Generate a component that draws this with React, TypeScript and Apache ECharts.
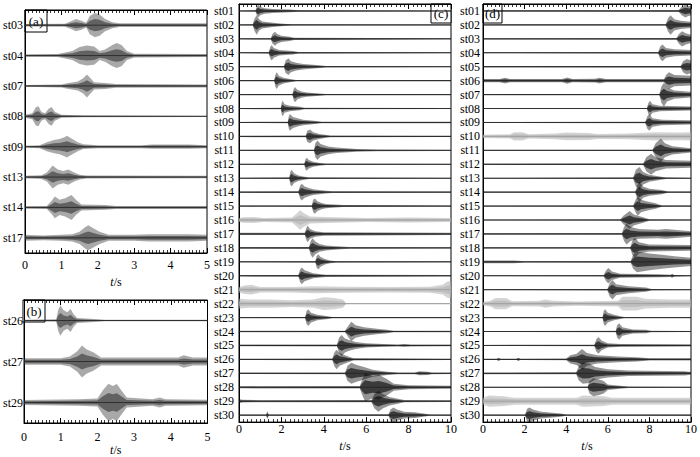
import React, { useEffect, useRef } from "react";
import * as echarts from "echarts";

// ---------- data: station names and waveform envelopes [t (s), half-amplitude (trace spacing units)] ----------
const A_STATIONS = ["st03", "st04", "st07", "st08", "st09", "st13", "st14", "st17"];
const A_ENVELOPES: number[][][] = [
  [[0, .04], [1.1, .05], [1.25, .12], [1.4, .2], [1.55, .15], [1.68, .08], [1.78, .3], [1.92, .4], [2.05, .35], [2.2, .2], [2.4, .1], [2.6, .06], [5, .06]],
  [[0, .04], [0.9, .05], [1.1, .1], [1.3, .15], [1.5, .28], [1.7, .33], [1.9, .3], [2.05, .15], [2.2, .2], [2.4, .35], [2.52, .41], [2.65, .35], [2.8, .15], [3, .06], [5, .05]],
  [[0, .03], [1.0, .05], [1.2, .1], [1.45, .15], [1.6, .25], [1.7, .38], [1.8, .25], [1.9, .12], [2.2, .1], [2.5, .06], [5, .05]],
  [[0, .05], [0.2, .1], [0.3, .3], [0.37, .33], [0.45, .15], [0.55, .1], [0.65, .25], [0.73, .31], [0.82, .15], [1.0, .05], [1.6, .03], [5, .02]],
  [[0, .03], [0.4, .05], [0.6, .15], [0.8, .22], [0.95, .25], [1.1, .32], [1.15, .36], [1.3, .25], [1.45, .15], [1.6, .08], [2.0, .05], [3.2, .05], [3.5, .07], [4.5, .07], [5, .05]],
  [[0, .04], [0.45, .06], [0.6, .15], [0.76, .38], [0.9, .25], [1.05, .2], [1.19, .25], [1.35, .15], [1.5, .08], [1.7, .05], [5, .04]],
  [[0, .04], [0.6, .05], [0.72, .2], [0.82, .36], [0.95, .25], [1.1, .3], [1.28, .41], [1.4, .25], [1.55, .1], [2.2, .08], [2.5, .05], [5, .05]],
  [[0, .1], [0.5, .08], [1.0, .1], [1.3, .12], [1.5, .2], [1.65, .35], [1.74, .41], [1.9, .3], [2.05, .2], [2.3, .1], [3.0, .1], [3.4, .12], [4.5, .12], [5, .1]],
];

const B_STATIONS = ["st26", "st27", "st29"];
const B_ENVELOPES: number[][][] = [
  [[0, .02], [0.88, .03], [0.93, .25], [0.99, .37], [1.08, .25], [1.18, .2], [1.27, .28], [1.35, .15], [1.45, .06], [1.8, .04], [2.2, .02], [5, .02]],
  [[0, .08], [1.0, .08], [1.25, .12], [1.45, .25], [1.58, .39], [1.7, .3], [1.9, .22], [2.1, .1], [3.0, .1], [4.2, .1], [4.35, .15], [4.6, .1], [5, .1]],
  [[0, .06], [1.5, .08], [2.0, .1], [2.15, .3], [2.3, .46], [2.42, .4], [2.53, .45], [2.65, .3], [2.8, .12], [3.5, .08], [3.7, .12], [3.85, .08], [5, .07]],
];

const C_STATIONS = ["st01", "st02", "st03", "st04", "st05", "st06", "st07", "st08", "st09", "st10", "st11", "st12", "st13", "st14", "st15", "st16", "st17", "st18", "st19", "st20", "st21", "st22", "st23", "st24", "st25", "st26", "st27", "st28", "st29", "st30"];
const C_GRAY = ["st16", "st21", "st22"];
const C_ENVELOPES: number[][][] = [
  [[0, .04], [0.78, .05], [0.85, .35], [0.91, .47], [1.0, .3], [1.2, .2], [1.6, .15], [2.4, .1], [2.8, .06], [10, .04]],
  [[0, .04], [0.65, .05], [0.72, .4], [0.83, .7], [0.95, .4], [1.1, .25], [1.6, .15], [2.1, .08], [2.5, .05], [10, .04]],
  [[0, .04], [1.5, .05], [1.58, .35], [1.7, .5], [1.8, .35], [2.0, .22], [2.4, .15], [2.6, .08], [10, .04]],
  [[0, .04], [1.4, .05], [1.47, .4], [1.54, .55], [1.65, .35], [1.9, .2], [2.56, .12], [2.8, .05], [10, .04]],
  [[0, .04], [2.12, .05], [2.2, .45], [2.33, .6], [2.45, .4], [2.7, .28], [3.03, .2], [3.8, .1], [4.1, .05], [10, .04]],
  [[0, .04], [1.66, .05], [1.72, .45], [1.78, .6], [1.88, .35], [2.1, .2], [2.4, .12], [2.7, .05], [10, .04]],
  [[0, .04], [2.52, .05], [2.58, .4], [2.64, .55], [2.75, .35], [2.95, .22], [3.2, .15], [3.8, .08], [4.1, .05], [10, .04]],
  [[0, .04], [1.97, .05], [2.02, .45], [2.06, .55], [2.15, .3], [2.4, .2], [2.88, .12], [3.1, .05], [10, .04]],
  [[0, .04], [2.3, .05], [2.35, .45], [2.4, .6], [2.55, .4], [2.8, .28], [3.03, .2], [3.66, .1], [3.9, .05], [10, .05]],
  [[0, .05], [3.15, .06], [3.22, .4], [3.35, .5], [3.5, .3], [3.8, .18], [4.05, .12], [4.3, .06], [10, .05]],
  [[0, .04], [3.54, .05], [3.6, .5], [3.7, .7], [3.85, .45], [4.2, .28], [4.6, .2], [5.55, .1], [6.5, .06], [10, .04]],
  [[0, .04], [3.08, .05], [3.13, .35], [3.19, .47], [3.3, .3], [3.5, .18], [3.8, .1], [4.1, .05], [10, .04]],
  [[0, .04], [2.37, .05], [2.42, .45], [2.48, .6], [2.6, .35], [2.8, .2], [3.03, .12], [3.3, .05], [10, .04]],
  [[0, .05], [2.8, .06], [2.88, .45], [2.96, .6], [3.1, .4], [3.3, .3], [3.5, .2], [4.1, .1], [4.4, .06], [10, .05]],
  [[0, .04], [3.43, .05], [3.5, .45], [3.58, .55], [3.7, .35], [3.9, .22], [4.1, .15], [4.9, .07], [10, .04]],
  [[0, .15], [0.2, .2], [0.7, .22], [1.15, .15], [2.5, .18], [2.75, .5], [2.88, .7], [3.05, .5], [3.35, .25], [4.5, .2], [6, .15], [8, .18], [10, .15]],
  [[0, .08], [3.1, .08], [3.18, .45], [3.24, .6], [3.35, .35], [3.6, .2], [4.0, .12], [10, .08]],
  [[0, .06], [3.3, .07], [3.38, .5], [3.47, .7], [3.6, .45], [3.8, .28], [4.1, .18], [4.8, .1], [5.2, .06], [10, .05]],
  [[0, .04], [3.6, .05], [3.66, .4], [3.74, .55], [3.85, .35], [4.05, .2], [4.3, .1], [4.6, .05], [10, .04]],
  [[0, .05], [2.8, .06], [2.88, .45], [2.96, .6], [3.1, .4], [3.3, .28], [3.5, .18], [4.1, .08], [10, .05]],
  [[0, .2], [0.25, .3], [0.6, .35], [1.0, .2], [2.5, .2], [3.5, .25], [5, .22], [7, .2], [9, .22], [9.6, .35], [9.85, .6], [10, .6]],
  [[0, .35], [0.5, .3], [1.5, .3], [2.5, .25], [3.5, .3], [4, .45], [4.5, .4], [4.9, .3], [5.05, .05], [10, .04]],
  [[0, .04], [3.12, .05], [3.18, .45], [3.27, .6], [3.4, .35], [3.7, .2], [4.2, .1], [4.4, .05], [10, .04]],
  [[0, .05], [5.0, .06], [5.15, .4], [5.3, .7], [5.5, .45], [5.9, .3], [6.5, .2], [7.0, .12], [7.3, .06], [10, .05]],
  [[0, .06], [4.62, .07], [4.72, .55], [4.84, .75], [5.0, .5], [5.16, .4], [5.5, .25], [6.0, .15], [6.8, .1], [7.5, .07], [7.8, .1], [8.1, .07], [10, .06]],
  [[0, .05], [4.4, .06], [4.5, .5], [4.6, .7], [4.75, .45], [5.0, .3], [5.16, .2], [5.4, .08], [10, .05]],
  [[0, .05], [5.0, .06], [5.12, .55], [5.3, .75], [5.55, .6], [5.9, .45], [6.3, .25], [7.0, .12], [7.5, .06], [8.3, .06], [8.5, .14], [8.9, .12], [9.1, .06], [10, .05]],
  [[0, .08], [5.7, .09], [5.82, .6], [5.95, 1.0], [6.3, .8], [6.6, .9], [6.97, .6], [7.3, .25], [8, .15], [9, .12], [10, .1]],
  [[0, .15], [0.15, .1], [1, .07], [6.25, .08], [6.38, .5], [6.57, .75], [6.8, .5], [7.1, .3], [7.44, .2], [7.8, .08], [10, .06]],
  [[0, .05], [1.28, .05], [1.34, .3], [1.4, .05], [7.05, .06], [7.15, .4], [7.28, .55], [7.45, .4], [7.8, .25], [8.3, .2], [8.7, .12], [9, .05], [10, .05]],
];

const D_STATIONS = C_STATIONS;
const D_GRAY = ["st10", "st22", "st29"];
const D_ENVELOPES: number[][][] = [
  [[0, .05], [9.4, .06], [9.55, .3], [9.73, .47], [9.9, .35], [10, .35]],
  [[0, .04], [8.78, .05], [8.9, .5], [9.02, .7], [9.2, .4], [9.5, .3], [10, .22]],
  [[0, .05], [9.3, .06], [9.42, .35], [9.57, .55], [9.75, .4], [10, .3]],
  [[0, .04], [8.42, .05], [8.52, .45], [8.63, .6], [8.8, .35], [9.2, .25], [10, .2]],
  [[0, .05], [9.5, .06], [9.62, .4], [9.8, .55], [10, .45]],
  [[0, .12], [0.8, .12], [1.06, .2], [1.3, .12], [3.8, .12], [4.05, .22], [4.3, .12], [5.4, .14], [5.6, .2], [5.9, .12], [8.7, .12], [8.82, .45], [8.94, .6], [9.2, .4], [10, .35]],
  [[0, .04], [8.48, .05], [8.58, .6], [8.7, .85], [8.85, .5], [9.2, .3], [10, .2]],
  [[0, .03], [7.88, .04], [7.95, .4], [8.03, .55], [8.15, .3], [8.5, .2], [10, .15]],
  [[0, .04], [7.8, .05], [7.9, .45], [8.0, .6], [8.15, .3], [8.6, .2], [10, .15]],
  [[0, .12], [1.3, .15], [1.5, .3], [1.9, .3], [2.2, .15], [3.5, .2], [4, .28], [5.1, .25], [5.5, .18], [7, .2], [8.3, .3], [9.5, .28], [10, .3]],
  [[0, .04], [8.15, .05], [8.3, .5], [8.55, .85], [8.75, .5], [9.1, .3], [10, .15]],
  [[0, .05], [7.7, .06], [7.85, .5], [8.08, .75], [8.3, .5], [8.8, .3], [10, .25]],
  [[0, .04], [7.22, .05], [7.35, .6], [7.52, .8], [7.7, .45], [8.0, .25], [8.5, .12], [8.8, .05], [10, .04]],
  [[0, .04], [7.32, .05], [7.42, .5], [7.52, .75], [7.7, .4], [8.0, .25], [8.6, .15], [8.9, .05], [10, .04]],
  [[0, .04], [7.22, .05], [7.35, .5], [7.44, .7], [7.6, .45], [7.9, .32], [8.3, .2], [8.6, .05], [10, .04]],
  [[0, .04], [6.6, .05], [6.75, .3], [7.05, .65], [7.25, .4], [7.7, .2], [8.0, .05], [10, .04]],
  [[0, .05], [6.68, .06], [6.78, .5], [6.9, .75], [7.1, .5], [7.5, .35], [8.4, .3], [8.8, .35], [10, .2]],
  [[0, .04], [7.08, .05], [7.18, .5], [7.29, .75], [7.5, .4], [8, .25], [10, .2]],
  [[0, .06], [0.1, .1], [1.5, .1], [2, .05], [7.1, .06], [7.22, .5], [7.4, .75], [8, .6], [8.6, .5], [9.2, .4], [10, .3]],
  [[0, .04], [5.8, .05], [5.92, .4], [6.03, .55], [6.2, .3], [6.6, .15], [8.5, .1], [9.0, .08], [9.1, .15], [9.2, .06], [10, .04]],
  [[0, .04], [5.98, .05], [6.1, .5], [6.23, .7], [6.4, .4], [7, .25], [7.84, .15], [8.1, .05], [10, .04]],
  [[0, .12], [0.35, .2], [0.6, .4], [1.1, .4], [1.4, .18], [2.7, .2], [3.0, .3], [3.4, .2], [4.5, .15], [6.5, .2], [6.7, .5], [7.4, .5], [7.8, .35], [9, .3], [10, .3]],
  [[0, .04], [5.75, .05], [5.8, .45], [5.87, .6], [6.0, .35], [6.3, .2], [6.6, .1], [6.8, .04], [10, .04]],
  [[0, .04], [6.38, .05], [6.45, .45], [6.55, .6], [6.7, .3], [7.2, .15], [7.84, .12], [8.1, .05], [10, .04]],
  [[0, .04], [5.35, .05], [5.45, .45], [5.55, .6], [5.7, .35], [6.0, .15], [6.6, .1], [10, .08]],
  [[0, .05], [0.65, .05], [0.75, .12], [0.85, .05], [1.6, .05], [1.7, .12], [1.8, .05], [4.0, .06], [4.2, .3], [4.5, .4], [4.76, .75], [5.0, .45], [5.5, .3], [6.5, .2], [7.4, .15], [8, .08], [10, .08]],
  [[0, .06], [4.48, .07], [4.6, .5], [4.8, .75], [5.1, .7], [5.4, .45], [6, .3], [7, .2], [9.7, .15], [10, .1]],
  [[0, .04], [5.03, .05], [5.12, .45], [5.3, .65], [5.6, .55], [5.8, .45], [6.0, .2], [6.6, .1], [7, .05], [10, .04]],
  [[0, .25], [0.3, .4], [1.0, .35], [1.5, .25], [4.5, .25], [4.8, .4], [5.8, .35], [6.2, .25], [10, .25]],
  [[0, .04], [2.02, .05], [2.12, .45], [2.24, .55], [2.4, .4], [2.8, .25], [3.74, .12], [4.0, .05], [10, .04]],
];

const PANEL_LABELS = ["(a)", "(b)", "(c)", "(d)"];
const A_X_MAX = 5;
const C_X_MAX = 10;

const FONT = "Liberation Serif";

type Panel = {
  stations: string[];
  envelopes: number[][][];
  gray: string[];
  xMax: number;
  interval: number;
  grid: { left: number; top: number; width: number; height: number };
  ink: string;
  yLabelMargin: number;
  xLabelMargin: number;
  nameGap: number;
};

const PANELS: Panel[] = [
  { stations: A_STATIONS, envelopes: A_ENVELOPES, gray: [], xMax: A_X_MAX, interval: 1, grid: { left: 25, top: 10, width: 182, height: 243 }, ink: "#333", yLabelMargin: 2, xLabelMargin: 6, nameGap: 15 },
  { stations: B_STATIONS, envelopes: B_ENVELOPES, gray: [], xMax: A_X_MAX, interval: 1, grid: { left: 23, top: 300, width: 184.5, height: 123 }, ink: "#333", yLabelMargin: 1, xLabelMargin: 8, nameGap: 19 },
  { stations: C_STATIONS, envelopes: C_ENVELOPES, gray: C_GRAY, xMax: C_X_MAX, interval: 2, grid: { left: 239, top: 4, width: 212, height: 423 }, ink: "#000", yLabelMargin: 5, xLabelMargin: 1, nameGap: 15 },
  { stations: D_STATIONS, envelopes: D_ENVELOPES, gray: D_GRAY, xMax: C_X_MAX, interval: 2, grid: { left: 483, top: 4, width: 211, height: 423 }, ink: "#000", yLabelMargin: 3, xLabelMargin: 1, nameGap: 15 },
];

const LABEL_BOXES = [
  { x: 25, y: 10, w: 22, h: 22 },
  { x: 23, y: 300, w: 22, h: 22 },
  { x: 431, y: 4, w: 20, h: 19 },
  { x: 483, y: 4, w: 19, h: 19 },
];

function buildOption() {
  const grid: any[] = [];
  const xAxis: any[] = [];
  const yAxis: any[] = [];
  const series: any[] = [];

  PANELS.forEach((p, i) => {
    grid.push({ ...p.grid, show: true, borderColor: "#000", borderWidth: 1, backgroundColor: "transparent", containLabel: false });
    const common = {
      gridIndex: i,
      type: "value",
      min: 0,
      max: p.xMax,
      interval: p.interval,
      splitLine: { show: false },
      axisLine: { show: true, onZero: false, lineStyle: { color: "#000", width: 1 } },
      axisTick: { show: true, inside: true, length: 5, lineStyle: { color: "#000", width: 1 } },
      minorTick: { show: true, splitNumber: 10, length: 3, lineStyle: { color: "#000", width: 0.8 } },
    };
    xAxis.push({
      ...common,
      position: "bottom",
      axisLabel: { color: "#000", fontFamily: FONT, fontSize: 12, margin: p.xLabelMargin },
      name: "{i|t}/s",
      nameLocation: "middle",
      nameGap: p.nameGap,
      nameTextStyle: {
        color: "#000",
        fontFamily: FONT,
        fontSize: 12,
        rich: { i: { fontStyle: "italic", fontFamily: FONT, fontSize: 12, color: "#000" } },
      },
    });
    xAxis.push({ ...common, position: "top", axisLabel: { show: false } });
    yAxis.push({
      gridIndex: i,
      type: "category",
      data: p.stations,
      inverse: true,
      boundaryGap: true,
      axisLine: { show: true, lineStyle: { color: "#000", width: 1 } },
      axisTick: { show: false },
      splitLine: { show: false },
      axisLabel: { color: "#000", fontFamily: FONT, fontSize: 12, margin: p.yLabelMargin, interval: 0 },
    });

    series.push({
      type: "custom",
      xAxisIndex: i * 2,
      yAxisIndex: i,
      clip: true,
      encode: { x: 0, y: 1 },
      data: p.stations.map((s, k) => [0, k]),
      renderItem: (params: any, api: any) => {
        const k = params.dataIndex;
        const env = p.envelopes[k];
        const band = api.size([0, 1])[1];
        const isGray = p.gray.includes(p.stations[k]);
        const color = isGray ? "#b0b0b0" : p.ink;
        // outer envelope (full amplitude) and denser core (half amplitude)
        const ring = (scale: number) => {
          const upper: number[][] = [];
          const lower: number[][] = [];
          env.forEach(([t, a]) => {
            const c = api.coord([t, k]);
            upper.push([c[0], c[1] - a * band * scale]);
            lower.push([c[0], c[1] + a * band * scale]);
          });
          return upper.concat(lower.reverse());
        };
        const start = api.coord([0, k]);
        const end = api.coord([p.xMax, k]);
        return {
          type: "group",
          children: [
            { type: "polygon", shape: { points: ring(1) }, style: { fill: color, opacity: isGray ? 0.55 : 0.42 } },
            { type: "polygon", shape: { points: ring(0.5) }, style: { fill: color, opacity: isGray ? 0.6 : 0.6 } },
            { type: "line", shape: { x1: start[0], y1: start[1], x2: end[0], y2: end[1] }, style: { stroke: isGray ? "#999" : "#222", lineWidth: 0.8 } },
          ],
        };
      },
    });
  });

  const graphic: any[] = LABEL_BOXES.map((b, i) => ({
    type: "group",
    z: 100,
    children: [
      { type: "rect", shape: { x: b.x, y: b.y, width: b.w, height: b.h }, style: { fill: "#fff", stroke: "#000", lineWidth: 1 } },
      { type: "text", x: b.x + b.w / 2, y: b.y + b.h / 2, style: { text: PANEL_LABELS[i], fontFamily: FONT, fontSize: 13, fill: "#000", align: "center", verticalAlign: "middle" } },
    ],
  }));

  return { animation: false, backgroundColor: "#fff", textStyle: { fontFamily: FONT }, grid, xAxis, yAxis, series, graphic };
}

export default function App() {
  const ref = useRef<HTMLDivElement>(null);
  useEffect(() => {
    if (!ref.current) return;
    const chart = echarts.init(ref.current, undefined, { renderer: "svg" });
    chart.setOption(buildOption() as any);
    return () => chart.dispose();
  }, []);
  return <div ref={ref} style={{ position: "fixed", left: 0, top: 0, width: 700, height: 457, background: "#fff" }} />;
}
